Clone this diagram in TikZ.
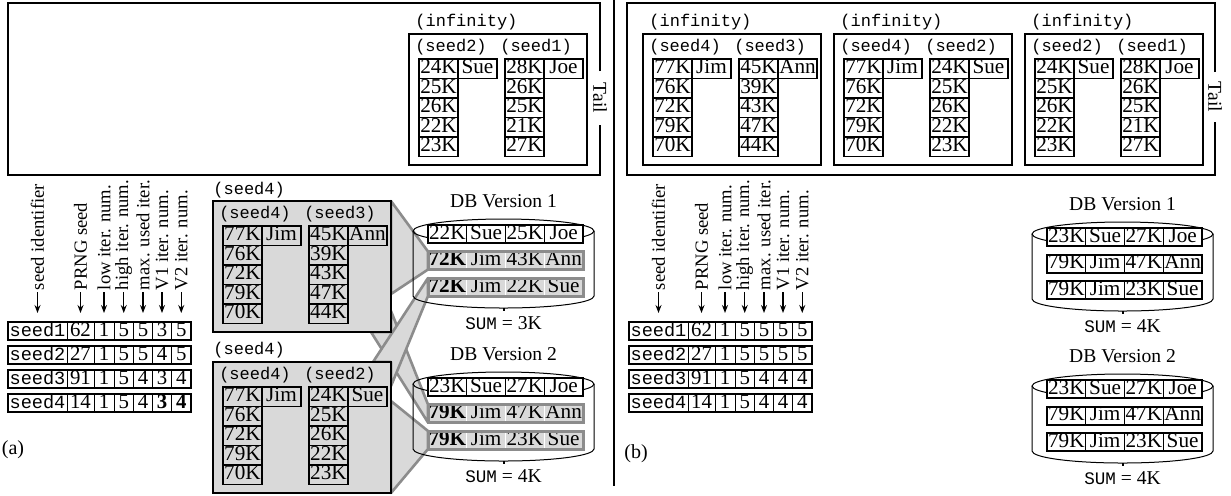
\documentclass[tikz,border=0pt]{standalone}
\usepackage{fontspec}
\setmainfont{Liberation Serif}
\setmonofont{Liberation Mono}
\usetikzlibrary{calc, arrows.meta}

\definecolor{boxgray}{gray}{0.85}
\definecolor{edgegray}{gray}{0.55}

\pgfdeclarelayer{back}
\pgfsetlayers{back,main}

\tikzset{
  kcell/.style={draw, line width=0.75pt, inner sep=0pt, outer sep=0pt,
    minimum width=19.5pt, minimum height=9.75pt, text height=7.1pt, text depth=2pt,
    font=\fontsize{10.6}{10.6}\selectfont},
  gcell/.style={kcell, fill=boxgray},
  keyframe/.style={draw, line width=1pt, inner sep=0pt, outer sep=0pt,
    minimum width=89pt, minimum height=65.5pt},
  grayframe/.style={keyframe, fill=boxgray},
  lbl/.style={inner sep=0pt, font=\fontsize{8.5}{8.5}\ttfamily},
  txt/.style={inner sep=0pt, font=\fontsize{9.8}{9.8}\selectfont},
  seedcell/.style={draw, line width=0.5pt, inner sep=0pt, outer sep=0pt,
    minimum height=9pt, text height=7pt, text depth=2pt,
    font=\fontsize{10.4}{10.4}\selectfont},
  collbl/.style={rotate=90, anchor=west, inner sep=0.8pt, font=\fontsize{9.3}{9.3}\selectfont},
  colarrow/.style={-{Stealth[length=4pt, width=3pt]}, line width=0.6pt},
  dbcell/.style={draw, line width=0.5pt, inner sep=0pt, outer sep=0pt,
    minimum width=19.375pt, minimum height=9pt, text height=7pt, text depth=2pt,
    font=\fontsize{10.6}{10.6}\selectfont},
  whitecell/.style={dbcell, fill=white},
  graycell/.style={dbcell, fill=boxgray, draw=white},
  whiterow/.style={draw, line width=1pt},
  grayrow/.style={draw=edgegray, line width=1.5pt},
  funnel/.style={fill=boxgray, draw=edgegray, line width=1.3pt, line join=round},
}

\newcommand{\sid}[1]{{\fontsize{9.3}{9.3}\selectfont\ttfamily seed#1}}

% key column: [cell style]{name}{x}{y}{person}{keys}
\newcommand{\keycol}[6][kcell]{%
  \foreach \kv [count=\i from 0] in {#6}
    \node[#1, anchor=north west] (#2-\i) at (#3,{#4+19.5*\i}) {\kv};
  \node[#1, anchor=west] (#2-p) at (#2-0.east) {#5};
}

% box with two seed labels: name, style, x, y, left label, right label
\newcommand{\seedbox}[6]{%
  \node[#2, anchor=north west] (#1) at (#3,#4) {};
  \node[lbl] (#1-a) at ({#3+42},{#4+13}) {#5};
  \node[lbl] (#1-b) at ({#3+127},{#4+13}) {#6};
}

% row of the seed table: name, x, y, entries
\newcommand{\seedrow}[4]{%
  \foreach \v [count=\j from 0] in {#4} {
    \pgfmathsetmacro\sofs{{0,59,86,106,125.5,144.5,163.5}[\j]}
    \pgfmathsetmacro\swid{{59,27,20,19.5,19,19,19.5}[\j]}
    \node[seedcell, minimum width=\swid*0.5pt, anchor=north west] (#1-\j) at ({#2+\sofs},#3) {\v};
  }
  \draw[line width=1pt] (#1-0.north west) rectangle (#1-6.south east);
}

% row inside a database: name, cell style, frame style, x, y, entries
\newcommand{\dbrow}[6]{%
  \foreach \v [count=\j from 0] in {#6}
    \node[#2, anchor=north west] (#1-\j) at ({#4+38.75*\j},#5) {\v};
  \draw[#3] (#1-0.north west) rectangle (#1-3.south east);
}

% database cylinder: name, centre x, top y, version, sum
\newcommand{\dbcyl}[5]{%
  \coordinate (#1) at (#2,#3);
  \draw[line width=0.5pt] (#1) ellipse [x radius=45.25pt, y radius=6pt];
  \draw[line width=0.5pt] ($(#1)+(-90.5,0)$) -- ++(0,65)
    arc[start angle=180, end angle=360, x radius=45.25pt, y radius=6pt] -- ++(0,-65);
  \draw[line width=1pt] ($(#1)+(0,77)$) -- ++(0,3);
  \node[txt] (#1-v) at ($(#1)+(0,-30)$) {DB Version #4};
  \node[txt] (#1-s) at ($(#1)+(0,92)$) {{\fontsize{8.8}{8.8}\ttfamily SUM} = #5};
}

\begin{document}
\begin{tikzpicture}[x=0.5pt, y=-0.5pt]
\useasboundingbox (0,0) rectangle (1231,495);

% panel (a): tail
\draw[line width=1pt] (600,71) -- (600,3) -- (8,3) -- (8,175) -- (600,175) -- (600,125);
\node[txt, rotate=-90] (taila) at (600,98) {Tail};
\node[lbl, anchor=west] (infa) at (415,22) {(infinity)};
\seedbox{ia}{keyframe}{409}{34}{(seed2)}{(seed1)}
\keycol{ia-l}{419}{59}{Sue}{24K,25K,26K,22K,23K}
\keycol{ia-r}{505}{59}{Joe}{28K,26K,25K,21K,27K}

% panel (a): seed table
\seedrow{sa1}{8}{322}{\sid1,62,1,5,5,3,5}
\seedrow{sa2}{8}{346}{\sid2,27,1,5,5,4,5}
\seedrow{sa3}{8}{370}{\sid3,91,1,5,4,3,4}
\seedrow{sa4}{8}{394}{\sid4,14,1,5,4,\textbf{3},\textbf{4}}
\foreach \lab [count=\j from 0] in {seed identifier,PRNG seed,low iter. num.,high iter. num.,max. used iter.,V1 iter. num.,V2 iter. num.} {
  \node[collbl] (ca-\j) at ($(sa1-\j.north)+(0,-30)$) {\lab};
  \coordinate (ha-\j) at ($(sa1-\j.north)+(0,-9)$);
  \draw[colarrow] (ca-\j.west) -- (ha-\j);
}
\node[txt, font=\fontsize{10}{10}\selectfont] (taga) at (13,450) {(a)};

% panel (a): seed4 lists
\node[lbl, anchor=west] (gl1) at (213,190) {(seed4)};
\seedbox{gb1}{grayframe}{213}{201}{(seed4)}{(seed3)}
\keycol[gcell]{gb1-l}{223}{226}{Jim}{77K,76K,72K,79K,70K}
\keycol[gcell]{gb1-r}{309}{226}{Ann}{45K,39K,43K,47K,44K}
\node[lbl, anchor=west] (gl2) at (213,350) {(seed4)};
\seedbox{gb2}{grayframe}{213}{362}{(seed4)}{(seed2)}
\keycol[gcell]{gb2-l}{223}{387}{Jim}{77K,76K,72K,79K,70K}
\keycol[gcell]{gb2-r}{309}{387}{Sue}{24K,25K,26K,22K,23K}

% panel (a): databases
\dbrow{dba1-r1}{whitecell}{whiterow}{428}{225}{22K,Sue,25K,Joe}
\dbrow{dba1-r2}{graycell}{grayrow}{428}{251.5}{\textbf{72K},Jim,43K,Ann}
\dbrow{dba1-r3}{graycell}{grayrow}{428}{278}{\textbf{72K},Jim,22K,Sue}
\dbrow{dba2-r1}{whitecell}{whiterow}{428}{378}{23K,Sue,27K,Joe}
\dbrow{dba2-r2}{graycell}{grayrow}{428}{404.5}{\textbf{79K},Jim,47K,Ann}
\dbrow{dba2-r3}{graycell}{grayrow}{428}{431}{\textbf{79K},Jim,23K,Sue}

\draw[line width=0.8pt] (614,0) -- (614,486);

% panel (b): tail
\draw[line width=1pt] (1215,72) -- (1215,3) -- (627,3) -- (627,175) -- (1215,175) -- (1215,122);
\node[txt, rotate=-90] (tailb) at (1215,97) {Tail};
\node[lbl, anchor=west] (infb1) at (649,22) {(infinity)};
\seedbox{ib1}{keyframe}{643}{34}{(seed4)}{(seed3)}
\keycol{ib1-l}{653}{59}{Jim}{77K,76K,72K,79K,70K}
\keycol{ib1-r}{739}{59}{Ann}{45K,39K,43K,47K,44K}
\node[lbl, anchor=west] (infb2) at (840,22) {(infinity)};
\seedbox{ib2}{keyframe}{834}{34}{(seed4)}{(seed2)}
\keycol{ib2-l}{844}{59}{Jim}{77K,76K,72K,79K,70K}
\keycol{ib2-r}{930}{59}{Sue}{24K,25K,26K,22K,23K}
\node[lbl, anchor=west] (infb3) at (1031,22) {(infinity)};
\seedbox{ib3}{keyframe}{1025}{34}{(seed2)}{(seed1)}
\keycol{ib3-l}{1035}{59}{Sue}{24K,25K,26K,22K,23K}
\keycol{ib3-r}{1121}{59}{Joe}{28K,26K,25K,21K,27K}

% panel (b): seed table
\seedrow{sb1}{629}{322}{\sid1,62,1,5,5,5,5}
\seedrow{sb2}{629}{346}{\sid2,27,1,5,5,5,5}
\seedrow{sb3}{629}{370}{\sid3,91,1,5,4,4,4}
\seedrow{sb4}{629}{394}{\sid4,14,1,5,4,4,4}
\foreach \lab [count=\j from 0] in {seed identifier,PRNG seed,low iter. num.,high iter. num.,max. used iter.,V1 iter. num.,V2 iter. num.} {
  \node[collbl] (cb-\j) at ($(sb1-\j.north)+(0,-30)$) {\lab};
  \coordinate (hb-\j) at ($(sb1-\j.north)+(0,-9)$);
  \draw[colarrow] (cb-\j.west) -- (hb-\j);
}
\node[txt, font=\fontsize{10}{10}\selectfont] (tagb) at (636,454) {(b)};

% panel (b): databases
\dbrow{dbb1-r1}{whitecell}{whiterow}{1047}{228}{23K,Sue,27K,Joe}
\dbrow{dbb1-r2}{whitecell}{whiterow}{1047}{254.5}{79K,Jim,47K,Ann}
\dbrow{dbb1-r3}{whitecell}{whiterow}{1047}{281}{79K,Jim,23K,Sue}
\dbrow{dbb2-r1}{whitecell}{whiterow}{1047}{380}{23K,Sue,27K,Joe}
\dbrow{dbb2-r2}{whitecell}{whiterow}{1047}{406.5}{79K,Jim,47K,Ann}
\dbrow{dbb2-r3}{whitecell}{whiterow}{1047}{433}{79K,Jim,23K,Sue}

\begin{pgfonlayer}{back}
% callouts from the seed4 lists to the rows
\draw[funnel] (gb1.north east) -- (dba1-r2-0.north west) -- (dba1-r2-0.south west)
  -- ($(gb1.north east)+(0,93)$) -- cycle;
\draw[funnel] ($(gb1.north east)+(0,110)$) -- (dba2-r2-0.north west) -- (dba2-r2-0.south west)
  -- ($(gb1.south east)+(-20,0)$) -- (gb1.south east) -- cycle;
\draw[funnel] ($(gb2.north east)+(-18,0)$) -- (dba1-r3-0.north west) -- (dba1-r3-0.south west)
  -- ($(gb2.north east)+(0,24)$) -- (gb2.north east) -- cycle;
\draw[funnel] ($(gb2.north east)+(0,39)$) -- (dba2-r3-0.north west) -- (dba2-r3-0.south west)
  -- (gb2.south east) -- cycle;
\dbcyl{dba1}{503.5}{231}{1}{3K}
\dbcyl{dba2}{503.5}{384}{2}{4K}
\dbcyl{dbb1}{1122.5}{234}{1}{4K}
\dbcyl{dbb2}{1122.5}{386}{2}{4K}
\end{pgfonlayer}
\end{tikzpicture}
\end{document}
